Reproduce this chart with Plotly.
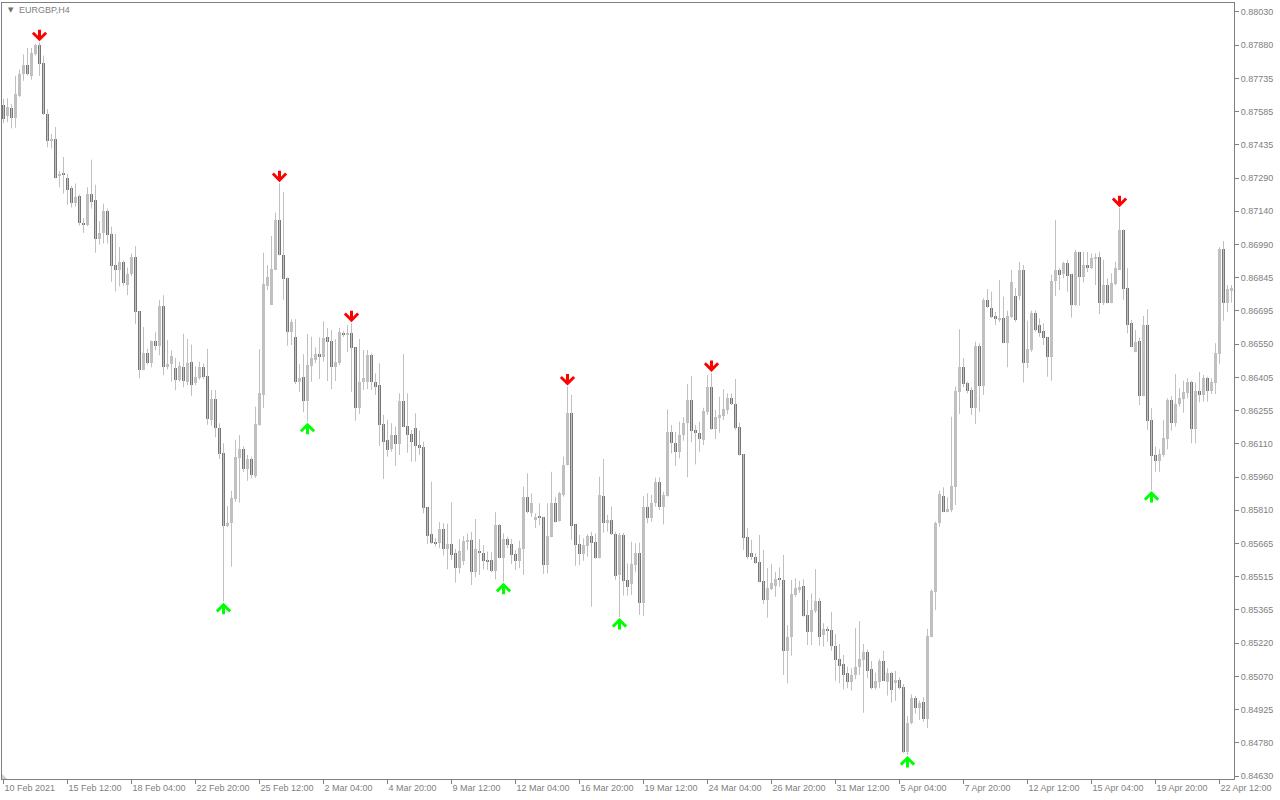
import plotly.graph_objects as go

symbol_title = "EURGBP,H4"

x_labels = ["10 Feb 2021", "15 Feb 12:00", "18 Feb 04:00", "22 Feb 20:00", "25 Feb 12:00",
            "2 Mar 04:00", "4 Mar 20:00", "9 Mar 12:00", "12 Mar 04:00", "16 Mar 20:00",
            "19 Mar 12:00", "24 Mar 04:00", "26 Mar 20:00", "31 Mar 12:00", "5 Apr 04:00",
            "7 Apr 20:00", "12 Apr 12:00", "15 Apr 04:00", "19 Apr 20:00", "22 Apr 12:00"]
bars_per_label = 16

y_labels = ["0.84630", "0.84780", "0.84925", "0.85070", "0.85220", "0.85365", "0.85515",
            "0.85665", "0.85810", "0.85960", "0.86110", "0.86255", "0.86405", "0.86550",
            "0.86695", "0.86845", "0.86990", "0.87140", "0.87290", "0.87435", "0.87585",
            "0.87735", "0.87880", "0.88030"]
y_label_low = 0.84630
y_label_high = 0.88030

opens = [0.87615, 0.87565, 0.87604, 0.87560, 0.87657, 0.87752, 0.87794, 0.87746, 0.87845, 0.87884,
         0.87803, 0.87577, 0.87456, 0.87465, 0.87298, 0.87309, 0.87292, 0.87247, 0.87180, 0.87209,
         0.87092, 0.87083, 0.87221, 0.87192, 0.87018, 0.87047, 0.87145, 0.87043, 0.86904, 0.86884,
         0.86918, 0.86816, 0.86862, 0.86941, 0.86699, 0.86439, 0.86514, 0.86466, 0.86565, 0.86545,
         0.86720, 0.86449, 0.86464, 0.86444, 0.86394, 0.86451, 0.86385, 0.86474, 0.86377, 0.86402,
         0.86451, 0.86411, 0.86215, 0.86308, 0.86180, 0.86069, 0.85743, 0.85755, 0.85863, 0.86047,
         0.86086, 0.85996, 0.86041, 0.85965, 0.86192, 0.86326, 0.86811, 0.86726, 0.86882, 0.87105,
         0.86949, 0.86848, 0.86607, 0.86585, 0.86385, 0.86406, 0.86300, 0.86456, 0.86482, 0.86508,
         0.86496, 0.86584, 0.86566, 0.86452, 0.86469, 0.86602, 0.86594, 0.86602, 0.86538, 0.86268,
         0.86382, 0.86382, 0.86504, 0.86382, 0.86370, 0.86197, 0.86126, 0.86086, 0.86148, 0.86108,
         0.86299, 0.86189, 0.86152, 0.86178, 0.86102, 0.86094, 0.85827, 0.85707, 0.85673, 0.85669,
         0.85730, 0.85641, 0.85663, 0.85621, 0.85555, 0.85588, 0.85673, 0.85681, 0.85539, 0.85633,
         0.85624, 0.85592, 0.85592, 0.85543, 0.85747, 0.85602, 0.85685, 0.85663, 0.85617, 0.85587,
         0.85641, 0.85873, 0.85799, 0.85770, 0.85787, 0.85783, 0.85569, 0.85695, 0.85847, 0.85765,
         0.85881, 0.86014, 0.86244, 0.85750, 0.85663, 0.85618, 0.85655, 0.85698, 0.85673, 0.85602,
         0.85876, 0.85758, 0.85770, 0.85707, 0.85525, 0.85703, 0.85503, 0.85483, 0.85569, 0.85624,
         0.85402, 0.85829, 0.85780, 0.85844, 0.85940, 0.85829, 0.85876, 0.86162, 0.86114, 0.86073,
         0.86148, 0.86200, 0.86304, 0.86170, 0.86158, 0.86126, 0.86251, 0.86363, 0.86174, 0.86225,
         0.86232, 0.86259, 0.86314, 0.86286, 0.86185, 0.86063, 0.85695, 0.85624, 0.85606, 0.85584,
         0.85498, 0.85414, 0.85463, 0.85477, 0.85507, 0.85503, 0.85188, 0.85248, 0.85436, 0.85458,
         0.85476, 0.85347, 0.85272, 0.85366, 0.85409, 0.85258, 0.85280, 0.85280, 0.85210, 0.85151,
         0.85129, 0.85087, 0.85050, 0.85080, 0.85114, 0.85147, 0.85181, 0.85106, 0.85023, 0.85050,
         0.85142, 0.85050, 0.85087, 0.85046, 0.85058, 0.85028, 0.84737, 0.84865, 0.84976, 0.84932,
         0.84958, 0.84883, 0.85250, 0.85450, 0.85755, 0.85876, 0.85806, 0.85814, 0.85918, 0.86340,
         0.86449, 0.86378, 0.86348, 0.86269, 0.86544, 0.86366, 0.86749, 0.86712, 0.86677, 0.86660,
         0.86667, 0.86559, 0.86674, 0.86766, 0.86766, 0.86882, 0.86470, 0.86526, 0.86689, 0.86637,
         0.86610, 0.86585, 0.86496, 0.86833, 0.86882, 0.86863, 0.86915, 0.86864, 0.86726, 0.86963,
         0.86852, 0.86904, 0.86892, 0.86934, 0.86941, 0.86734, 0.86815, 0.86737, 0.86820, 0.86882,
         0.87060, 0.86803, 0.86648, 0.86516, 0.86566, 0.86323, 0.86637, 0.86215, 0.86059, 0.86033,
         0.86059, 0.86129, 0.86304, 0.86203, 0.86284, 0.86307, 0.86336, 0.86382, 0.86174, 0.86344,
         0.86326, 0.86400, 0.86344, 0.86381, 0.86507, 0.86975, 0.86734, 0.86789]

highs = [0.87644, 0.87646, 0.87620, 0.87746, 0.87774, 0.87841, 0.87870, 0.87870, 0.87888, 0.87895,
         0.87836, 0.87598, 0.87488, 0.87518, 0.87322, 0.87385, 0.87309, 0.87256, 0.87267, 0.87217,
         0.87113, 0.87250, 0.87373, 0.87261, 0.87100, 0.87177, 0.87155, 0.87075, 0.87043, 0.86984,
         0.86924, 0.86893, 0.86955, 0.86988, 0.86699, 0.86628, 0.86531, 0.86568, 0.86607, 0.86749,
         0.86770, 0.86570, 0.86523, 0.86491, 0.86474, 0.86598, 0.86575, 0.86550, 0.86453, 0.86474,
         0.86466, 0.86531, 0.86348, 0.86348, 0.86200, 0.86111, 0.85832, 0.85899, 0.86126, 0.86148,
         0.86096, 0.86059, 0.86051, 0.86274, 0.86530, 0.86959, 0.86904, 0.87033, 0.87137, 0.87268,
         0.87230, 0.86848, 0.86663, 0.86663, 0.86464, 0.86507, 0.86597, 0.86585, 0.86538, 0.86582,
         0.86654, 0.86623, 0.86615, 0.86574, 0.86625, 0.86610, 0.86637, 0.86645, 0.86538, 0.86575,
         0.86526, 0.86526, 0.86511, 0.86422, 0.86467, 0.86237, 0.86215, 0.86200, 0.86185, 0.86333,
         0.86508, 0.86333, 0.86170, 0.86244, 0.86167, 0.86118, 0.85827, 0.85940, 0.85688, 0.85761,
         0.85755, 0.85753, 0.85848, 0.85641, 0.85684, 0.85698, 0.85710, 0.85717, 0.85774, 0.85685,
         0.85658, 0.85629, 0.85626, 0.85804, 0.85752, 0.85710, 0.85695, 0.85685, 0.85636, 0.85677,
         0.85918, 0.85977, 0.85888, 0.85799, 0.85844, 0.85784, 0.85844, 0.85984, 0.85873, 0.85895,
         0.86051, 0.86363, 0.86326, 0.85750, 0.85703, 0.85688, 0.85707, 0.85717, 0.85710, 0.85962,
         0.86041, 0.85792, 0.85829, 0.85717, 0.85712, 0.85712, 0.85577, 0.85673, 0.85666, 0.85669,
         0.85876, 0.85888, 0.85881, 0.85958, 0.85960, 0.85895, 0.86262, 0.86192, 0.86162, 0.86207,
         0.86227, 0.86375, 0.86410, 0.86192, 0.86207, 0.86269, 0.86415, 0.86424, 0.86259, 0.86318,
         0.86352, 0.86333, 0.86333, 0.86397, 0.86203, 0.86063, 0.85733, 0.85681, 0.85621, 0.85703,
         0.85636, 0.85555, 0.85574, 0.85539, 0.85559, 0.85614, 0.85302, 0.85503, 0.85510, 0.85499,
         0.85506, 0.85414, 0.85443, 0.85551, 0.85421, 0.85310, 0.85295, 0.85361, 0.85262, 0.85218,
         0.85169, 0.85117, 0.85110, 0.85288, 0.85320, 0.85218, 0.85194, 0.85142, 0.85090, 0.85151,
         0.85187, 0.85110, 0.85094, 0.85098, 0.85070, 0.85040, 0.84897, 0.84994, 0.84986, 0.84965,
         0.84981, 0.85285, 0.85461, 0.85762, 0.85900, 0.85915, 0.85871, 0.86229, 0.86363, 0.86618,
         0.86489, 0.86385, 0.86360, 0.86563, 0.86556, 0.86756, 0.86797, 0.86785, 0.86696, 0.86838,
         0.86763, 0.86701, 0.86882, 0.86802, 0.86918, 0.86904, 0.86656, 0.86701, 0.86701, 0.86667,
         0.86645, 0.86585, 0.86860, 0.87105, 0.86891, 0.86919, 0.86927, 0.86864, 0.86971, 0.86963,
         0.86963, 0.86963, 0.86956, 0.86956, 0.86963, 0.86927, 0.86845, 0.86867, 0.86919, 0.87157,
         0.87063, 0.86890, 0.86660, 0.86615, 0.86581, 0.86677, 0.86708, 0.86267, 0.86096, 0.86084,
         0.86215, 0.86311, 0.86321, 0.86419, 0.86356, 0.86389, 0.86400, 0.86389, 0.86381, 0.86429,
         0.86415, 0.86407, 0.86400, 0.86556, 0.86983, 0.87011, 0.86815, 0.86815]

lows = [0.87535, 0.87540, 0.87512, 0.87515, 0.87652, 0.87724, 0.87746, 0.87729, 0.87836, 0.87746,
        0.87572, 0.87428, 0.87423, 0.87289, 0.87250, 0.87222, 0.87172, 0.87160, 0.87164, 0.87080,
        0.87047, 0.87077, 0.87155, 0.86959, 0.86996, 0.87000, 0.87000, 0.86829, 0.86787, 0.86809,
        0.86812, 0.86770, 0.86854, 0.86642, 0.86399, 0.86436, 0.86461, 0.86449, 0.86524, 0.86503,
        0.86414, 0.86439, 0.86385, 0.86347, 0.86385, 0.86360, 0.86369, 0.86322, 0.86369, 0.86394,
        0.86397, 0.86193, 0.86189, 0.86138, 0.86041, 0.85406, 0.85738, 0.85562, 0.85850, 0.85847,
        0.85982, 0.85944, 0.85955, 0.85956, 0.86189, 0.86267, 0.86793, 0.86726, 0.86882, 0.86947,
        0.86749, 0.86545, 0.86548, 0.86375, 0.86338, 0.86249, 0.86207, 0.86385, 0.86467, 0.86397,
        0.86474, 0.86388, 0.86352, 0.86388, 0.86459, 0.86584, 0.86517, 0.86340, 0.86211, 0.86241,
        0.86348, 0.86352, 0.86348, 0.86326, 0.86100, 0.85952, 0.86051, 0.86073, 0.86011, 0.86059,
        0.86183, 0.86069, 0.86029, 0.86029, 0.86059, 0.85799, 0.85663, 0.85663, 0.85651, 0.85644,
        0.85611, 0.85550, 0.85592, 0.85491, 0.85532, 0.85569, 0.85636, 0.85480, 0.85515, 0.85525,
        0.85550, 0.85547, 0.85537, 0.85505, 0.85599, 0.85495, 0.85645, 0.85574, 0.85547, 0.85555,
        0.85525, 0.85799, 0.85784, 0.85733, 0.85747, 0.85529, 0.85532, 0.85693, 0.85758, 0.85762,
        0.85873, 0.86012, 0.85681, 0.85566, 0.85569, 0.85588, 0.85606, 0.85384, 0.85596, 0.85599,
        0.85713, 0.85717, 0.85703, 0.85503, 0.85338, 0.85433, 0.85433, 0.85436, 0.85537, 0.85347,
        0.85342, 0.85755, 0.85762, 0.85829, 0.85814, 0.85750, 0.85874, 0.86066, 0.86011, 0.86044,
        0.86122, 0.85960, 0.86115, 0.86017, 0.86073, 0.86103, 0.86237, 0.86170, 0.86130, 0.86158,
        0.86215, 0.86241, 0.86281, 0.86170, 0.86056, 0.85636, 0.85596, 0.85592, 0.85574, 0.85492,
        0.85396, 0.85335, 0.85458, 0.85428, 0.85473, 0.85080, 0.85043, 0.85166, 0.85428, 0.85445,
        0.85339, 0.85213, 0.85213, 0.85356, 0.85210, 0.85206, 0.85228, 0.85188, 0.85054, 0.85043,
        0.85016, 0.85021, 0.85010, 0.85061, 0.85080, 0.84912, 0.85065, 0.85016, 0.85016, 0.85021,
        0.85053, 0.84988, 0.84957, 0.84965, 0.85016, 0.84733, 0.84724, 0.84860, 0.84909, 0.84880,
        0.84872, 0.84843, 0.85248, 0.85369, 0.85740, 0.85804, 0.85804, 0.85804, 0.85836, 0.86241,
        0.86360, 0.86333, 0.86237, 0.86197, 0.86251, 0.86326, 0.86712, 0.86667, 0.86637, 0.86651,
        0.86556, 0.86449, 0.86668, 0.86651, 0.86749, 0.86381, 0.86445, 0.86518, 0.86607, 0.86585,
        0.86548, 0.86407, 0.86389, 0.86766, 0.86793, 0.86845, 0.86785, 0.86670, 0.86723, 0.86723,
        0.86826, 0.86873, 0.86886, 0.86815, 0.86685, 0.86726, 0.86734, 0.86734, 0.86815, 0.86882,
        0.86749, 0.86600, 0.86538, 0.86516, 0.86281, 0.86320, 0.86170, 0.85903, 0.85984, 0.85984,
        0.86051, 0.86084, 0.86167, 0.86185, 0.86274, 0.86247, 0.86311, 0.86111, 0.86111, 0.86293,
        0.86296, 0.86296, 0.86330, 0.86330, 0.86464, 0.86656, 0.86696, 0.86737]

closes = [0.87553, 0.87607, 0.87560, 0.87666, 0.87754, 0.87794, 0.87752, 0.87849, 0.87884, 0.87800,
          0.87574, 0.87456, 0.87465, 0.87292, 0.87309, 0.87307, 0.87239, 0.87180, 0.87206, 0.87089,
          0.87085, 0.87221, 0.87186, 0.87018, 0.87047, 0.87145, 0.87038, 0.86901, 0.86884, 0.86918,
          0.86826, 0.86866, 0.86941, 0.86695, 0.86439, 0.86514, 0.86469, 0.86565, 0.86545, 0.86720,
          0.86449, 0.86464, 0.86501, 0.86391, 0.86456, 0.86389, 0.86469, 0.86372, 0.86407, 0.86451,
          0.86407, 0.86218, 0.86308, 0.86178, 0.86063, 0.85744, 0.85755, 0.85869, 0.86051, 0.86086,
          0.85996, 0.86041, 0.85970, 0.86197, 0.86336, 0.86820, 0.86850, 0.86886, 0.87105, 0.86949,
          0.86842, 0.86607, 0.86649, 0.86385, 0.86400, 0.86300, 0.86459, 0.86489, 0.86508, 0.86496,
          0.86579, 0.86563, 0.86452, 0.86474, 0.86606, 0.86594, 0.86602, 0.86536, 0.86268, 0.86382,
          0.86400, 0.86504, 0.86382, 0.86363, 0.86192, 0.86118, 0.86081, 0.86148, 0.86108, 0.86299,
          0.86185, 0.86148, 0.86118, 0.86099, 0.86091, 0.85824, 0.85700, 0.85669, 0.85663, 0.85730,
          0.85641, 0.85663, 0.85614, 0.85555, 0.85632, 0.85676, 0.85681, 0.85539, 0.85640, 0.85624,
          0.85588, 0.85587, 0.85543, 0.85747, 0.85602, 0.85685, 0.85658, 0.85614, 0.85587, 0.85644,
          0.85873, 0.85804, 0.85844, 0.85784, 0.85780, 0.85569, 0.85698, 0.85847, 0.85761, 0.85888,
          0.86014, 0.86244, 0.85744, 0.85658, 0.85618, 0.85658, 0.85698, 0.85669, 0.85602, 0.85881,
          0.85758, 0.85770, 0.85707, 0.85520, 0.85703, 0.85499, 0.85473, 0.85574, 0.85624, 0.85402,
          0.85829, 0.85780, 0.85844, 0.85940, 0.85829, 0.85881, 0.86162, 0.86111, 0.86073, 0.86148,
          0.86203, 0.86304, 0.86167, 0.86155, 0.86130, 0.86256, 0.86360, 0.86174, 0.86227, 0.86237,
          0.86263, 0.86314, 0.86284, 0.86180, 0.86059, 0.85691, 0.85606, 0.85604, 0.85580, 0.85495,
          0.85414, 0.85466, 0.85488, 0.85507, 0.85503, 0.85188, 0.85250, 0.85439, 0.85468, 0.85473,
          0.85342, 0.85272, 0.85369, 0.85409, 0.85250, 0.85283, 0.85276, 0.85210, 0.85147, 0.85121,
          0.85080, 0.85050, 0.85080, 0.85117, 0.85151, 0.85181, 0.85099, 0.85023, 0.85053, 0.85142,
          0.85054, 0.85087, 0.85013, 0.85058, 0.85023, 0.84737, 0.84865, 0.84976, 0.84932, 0.84954,
          0.84883, 0.85253, 0.85454, 0.85758, 0.85885, 0.85806, 0.85818, 0.85921, 0.86344, 0.86449,
          0.86375, 0.86344, 0.86269, 0.86544, 0.86366, 0.86749, 0.86716, 0.86674, 0.86664, 0.86664,
          0.86559, 0.86677, 0.86830, 0.86660, 0.86882, 0.86470, 0.86531, 0.86689, 0.86615, 0.86600,
          0.86581, 0.86496, 0.86833, 0.86882, 0.86860, 0.86915, 0.86855, 0.86726, 0.86963, 0.86852,
          0.86904, 0.86892, 0.86934, 0.86941, 0.86734, 0.86815, 0.86737, 0.86823, 0.86890, 0.87060,
          0.86798, 0.86637, 0.86541, 0.86563, 0.86323, 0.86637, 0.86211, 0.86056, 0.86033, 0.86063,
          0.86133, 0.86304, 0.86203, 0.86284, 0.86311, 0.86340, 0.86382, 0.86174, 0.86344, 0.86326,
          0.86400, 0.86344, 0.86382, 0.86511, 0.86975, 0.86734, 0.86798, 0.86803]

# bar indices of the indicator's signals
sell_signal_bars = [9, 69, 87, 141, 177, 279]
buy_signal_bars = [55, 76, 125, 154, 226, 287]

BULL = "#c0c0c0"
BEAR = "#777777"
WICK = "#c0c0c0"
AXIS = "#808080"
TEXT = "#808080"

n = len(opens)
idx = list(range(n))

fig = go.Figure()

wx, wy = [], []
for i in idx:
    wx += [i, i, None]
    wy += [lows[i], highs[i], None]
fig.add_trace(go.Scatter(x=wx, y=wy, mode="lines", line=dict(color=WICK, width=1),
                         hoverinfo="skip", showlegend=False))

min_body = 0.000045
for bull, col in ((True, BULL), (False, BEAR)):
    sel = [i for i in idx if (closes[i] >= opens[i]) == bull]
    bases, lens = [], []
    for i in sel:
        lo = min(opens[i], closes[i])
        h = abs(closes[i] - opens[i])
        if h < min_body:
            lo -= (min_body - h) / 2
            h = min_body
        bases.append(lo)
        lens.append(h)
    fig.add_trace(go.Bar(x=sel, y=lens, base=bases, width=0.75,
                         marker=dict(color=col, line=dict(width=0)),
                         hoverinfo="skip", showlegend=False))

for i in sell_signal_bars:
    fig.add_annotation(x=i, y=highs[i], xref="x", yref="y", text="", showarrow=True,
                       arrowhead=4, arrowsize=0.85, arrowwidth=3, arrowcolor="#ff0000",
                       ax=0, ay=-14, standoff=1)
for i in buy_signal_bars:
    fig.add_annotation(x=i, y=lows[i], xref="x", yref="y", text="", showarrow=True,
                       arrowhead=4, arrowsize=0.85, arrowwidth=3, arrowcolor="#00ff00",
                       ax=0, ay=14, standoff=1)

fig.add_annotation(x=0.0032, y=0.9915, xref="paper", yref="paper", text="▼",
                   showarrow=False, xanchor="left", yanchor="middle",
                   font=dict(family="DejaVu Sans", size=7, color="#707070"))
fig.add_annotation(x=0.0125, y=0.991, xref="paper", yref="paper", text=symbol_title,
                   showarrow=False, xanchor="left", yanchor="middle",
                   font=dict(family="Liberation Sans", size=9, color=TEXT))

# small chart-shift marker in the lower-left corner
fig.add_shape(type="path", xref="paper", yref="paper",
              path="M 0,0 L 0.0045,0 L 0,0.0065 Z",
              fillcolor="#d0d0d0", line=dict(width=0))

y_ticks = [y_label_low + k * (y_label_high - y_label_low) / (len(y_labels) - 1)
           for k in range(len(y_labels))]
x_ticks = [k * bars_per_label for k in range(len(x_labels))]

fig.update_layout(
    width=1280, height=800,
    margin=dict(l=2, r=46, t=3, b=21),
    paper_bgcolor="white", plot_bgcolor="white",
    barmode="overlay", bargap=0, showlegend=False,
    font=dict(family="Liberation Sans", size=9, color=TEXT),
)
fig.update_xaxes(range=[-0.375, 307.625], tickmode="array", tickvals=x_ticks, ticktext=x_labels,
                 ticks="outside", ticklen=4, tickwidth=1, tickcolor=AXIS,
                 showline=True, linecolor=AXIS, linewidth=1, mirror=True,
                 showgrid=False, zeroline=False, ticklabelposition="outside right",
                 fixedrange=True)
fig.update_yaxes(side="right", range=[0.84617, 0.88070], tickmode="array", tickvals=y_ticks,
                 ticktext=y_labels, ticks="outside", ticklen=4, tickwidth=1, tickcolor=AXIS,
                 showline=True, linecolor=AXIS, linewidth=1, mirror=True,
                 showgrid=False, zeroline=False, fixedrange=True)

fig.write_html("out.html", config={"displayModeBar": False},
               post_script="document.body.style.margin='0';document.body.style.overflow='hidden';")
